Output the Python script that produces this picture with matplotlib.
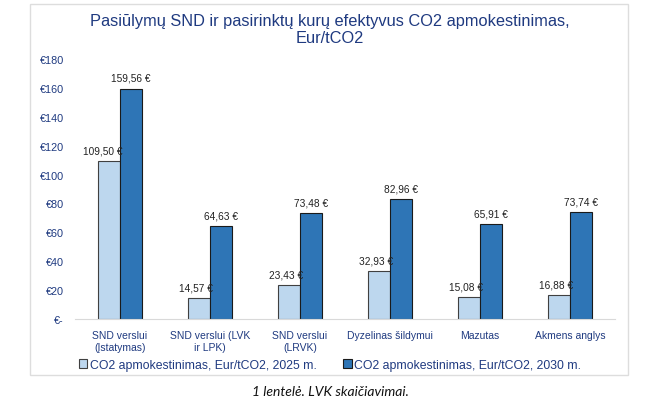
import matplotlib
matplotlib.use("Agg")
import matplotlib.pyplot as plt
import numpy as np
from matplotlib.patches import Rectangle

plt.rcParams["font.family"] = ["Liberation Sans", "DejaVu Sans"]

categories = [
    "SND verslui\n(Įstatymas)",
    "SND verslui (LVK\nir LPK)",
    "SND verslui\n(LRVK)",
    "Dyzelinas šildymui",
    "Mazutas",
    "Akmens anglys",
]
values_2025 = [109.50, 14.57, 23.43, 32.93, 15.08, 16.88]
values_2030 = [159.56, 64.63, 73.48, 82.96, 65.91, 73.74]
series_names = [
    "CO2 apmokestinimas, Eur/tCO2, 2025 m.",
    "CO2 apmokestinimas, Eur/tCO2, 2030 m.",
]
yticks = [0, 20, 40, 60, 80, 100, 120, 140, 160, 180]
ytick_labels = ["€-", "€20", "€40", "€60", "€80", "€100", "€120", "€140", "€160", "€180"]
title = "Pasiūlymų SND ir pasirinktų kurų efektyvus CO2 apmokestinimas,\nEur/tCO2"
caption = "1 lentelė. LVK skaičiavimai."

navy = "#1F3A80"
light = "#BDD7EE"
dark = "#2E75B6"


def fmt(v):
    return f"{v:.2f}".replace(".", ",") + " €"


fig = plt.figure(figsize=(6.52, 4.10), dpi=100)
fig.patches.append(Rectangle((30 / 652, 1 - 376 / 410), 598 / 652, 371 / 410,
                             transform=fig.transFigure, fill=False,
                             edgecolor="#DDDDDD", linewidth=1.0))

ax = fig.add_axes([75 / 652, 1 - 320 / 410, 540 / 652, 260 / 410])
x = np.arange(len(categories))
w = 0.245
b1 = ax.bar(x - w / 2, values_2025, w, color=light, edgecolor="#404040",
            linewidth=0.8, label=series_names[0])
b2 = ax.bar(x + w / 2, values_2030, w, color=dark, edgecolor="#1a1a1a",
            linewidth=0.8, label=series_names[1])

for rect, v in zip(b1, values_2025):
    ax.annotate(fmt(v), (rect.get_x() + rect.get_width(), v), xytext=(2, 4),
                textcoords="offset points", ha="right", va="bottom",
                fontsize=7.3, color="#222222")
for rect, v in zip(b2, values_2030):
    ax.annotate(fmt(v), (rect.get_x() + rect.get_width() / 2, v), xytext=(0, 4),
                textcoords="offset points", ha="center", va="bottom",
                fontsize=7.3, color="#222222")

ax.set_xlim(-0.5, len(categories) - 0.5)
ax.set_ylim(0, 180)
ax.set_yticks(yticks)
ax.set_yticklabels(ytick_labels, color=navy, fontsize=7.8)
ax.set_xticks(x)
ax.set_xticklabels(categories, color=navy, fontsize=7.5)
ax.tick_params(length=0, pad=8)
for s in ["top", "right", "left"]:
    ax.spines[s].set_visible(False)
ax.spines["bottom"].set_color("#D9D9D9")

fig.text(330 / 652, 1 - 30 / 410, title, ha="center", va="center",
         fontsize=11.8, color=navy, linespacing=1.15)

leg = fig.legend(handles=[b1, b2], loc="center", bbox_to_anchor=(330 / 652, 1 - 366 / 410),
                 ncol=2, frameon=False, fontsize=8.8, handlelength=0.7,
                 handleheight=0.7, handletextpad=0.2, columnspacing=2.2)
for t in leg.get_texts():
    t.set_color(navy)

fig.text(330 / 652, 1 - 392 / 410, caption, ha="center", va="center",
         fontsize=10, style="italic", family=["Lato", "DejaVu Sans"], color="#111111")

fig.savefig("out.png", dpi=100)
